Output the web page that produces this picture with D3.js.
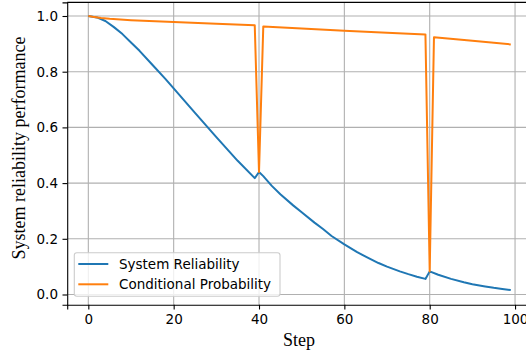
<!DOCTYPE html>
<html>
<head>
<meta charset="utf-8">
<script src="https://cdn.jsdelivr.net/npm/d3@7"></script>
<style>
  body { margin: 0; background: #fff; }
  svg { display: block; }
  .tick text { font-family: "DejaVu Sans", sans-serif; font-size: 13.5px; fill: #000; }
</style>
</head>
<body>
<script>
const width = 526;
const height = 354;

// values
const reliabilitySteps = [0, 2, 4, 6, 8, 10, 12, 15, 18, 20, 25, 30, 35, 39,
    40, 41, 43, 45, 48, 50, 53, 55, 57, 60, 63, 65, 68, 70, 73, 75, 77, 79,
    80, 82, 85, 88, 90, 93, 95, 97, 99];
const reliabilityValues = [1.0, 0.995, 0.982, 0.96, 0.935, 0.905, 0.875, 0.825, 0.775, 0.74, 0.652, 0.565, 0.48, 0.418,
    0.44, 0.425, 0.39, 0.36, 0.32, 0.295, 0.258, 0.235, 0.21, 0.18, 0.152, 0.136, 0.113, 0.1, 0.083, 0.073, 0.064, 0.056,
    0.083, 0.071, 0.056, 0.044, 0.037, 0.029, 0.024, 0.02, 0.016];

const conditionalSteps = [0, 1, 3, 5, 10, 20, 30, 39, 40, 41, 50, 60, 70, 79, 80, 81, 90, 99];
const conditionalValues = [1.0, 0.997, 0.993, 0.99, 0.985, 0.978, 0.972, 0.967, 0.44, 0.962, 0.955, 0.947, 0.94, 0.934, 0.083, 0.924, 0.911, 0.898];

const xTicks = [0, 20, 40, 60, 80, 100];
const yTicks = [0.0, 0.2, 0.4, 0.6, 0.8, 1.0];

const series = [
    { name: 'System Reliability', color: '#1f77b4', steps: reliabilitySteps, values: reliabilityValues },
    { name: 'Conditional Probability', color: '#ff7f0e', steps: conditionalSteps, values: conditionalValues }
];

const plot = { left: 67.2, right: 531.9, top: 2.35, bottom: 304.8 };

const svg = d3.select('body').append('svg')
    .attr('width', width)
    .attr('height', height);

const xScale = d3.scaleLinear()
    .domain([-4.95, 103.95])
    .range([plot.left, plot.right]);
const yScale = d3.scaleLinear()
    .domain([-0.037, 1.049])
    .range([plot.bottom, plot.top]);

// grid
svg.append('g')
    .selectAll('line').data(xTicks)
    .enter().append('line')
    .attr('x1', d => xScale(d)).attr('x2', d => xScale(d))
    .attr('y1', plot.top).attr('y2', plot.bottom)
    .attr('stroke', '#b0b0b0').attr('stroke-width', 1.1);
svg.append('g')
    .selectAll('line').data(yTicks)
    .enter().append('line')
    .attr('x1', plot.left).attr('x2', plot.right)
    .attr('y1', d => yScale(d)).attr('y2', d => yScale(d))
    .attr('stroke', '#b0b0b0').attr('stroke-width', 1.1);

// lines
const line = d3.line()
    .x(d => xScale(d[0]))
    .y(d => yScale(d[1]));

series.forEach(s => {
    svg.append('path')
        .datum(d3.zip(s.steps, s.values))
        .attr('d', line)
        .attr('fill', 'none')
        .attr('stroke', s.color)
        .attr('stroke-width', 2)
        .attr('stroke-linejoin', 'round');
});

// axes
const xAxis = d3.axisBottom(xScale).tickValues(xTicks).tickFormat(d3.format('d')).tickSize(4.7).tickPadding(4.5);
const yAxis = d3.axisLeft(yScale).tickValues(yTicks).tickFormat(d3.format('.1f')).tickSize(4.7).tickPadding(4.5);

svg.append('g')
    .attr('transform', `translate(0, ${plot.bottom})`)
    .call(xAxis)
    .call(g => g.select('.domain').attr('stroke-width', 1.1));
svg.append('g')
    .attr('transform', `translate(${plot.left}, 0)`)
    .call(yAxis)
    .call(g => g.select('.domain').attr('stroke-width', 1.1));
svg.selectAll('.tick line').attr('stroke-width', 1.1);

svg.append('line')
    .attr('x1', plot.left).attr('x2', plot.right)
    .attr('y1', plot.top).attr('y2', plot.top)
    .attr('stroke', '#000').attr('stroke-width', 1.1);

// axis labels
svg.append('text')
    .attr('x', 299)
    .attr('y', 346)
    .attr('text-anchor', 'middle')
    .attr('font-family', '"Liberation Serif", serif')
    .attr('font-size', 18)
    .text('Step');
svg.append('text')
    .attr('transform', `translate(25, 148) rotate(-90)`)
    .attr('text-anchor', 'middle')
    .attr('font-family', '"Liberation Serif", serif')
    .attr('font-size', 18)
    .text('System reliability performance');

// legend
const legend = svg.append('g').attr('transform', 'translate(74.3, 252.7)');
legend.append('rect')
    .attr('width', 205.7).attr('height', 43.5)
    .attr('rx', 2.5)
    .attr('fill', '#fff').attr('fill-opacity', 0.8)
    .attr('stroke', '#cccccc').attr('stroke-width', 1.1);
series.forEach((s, i) => {
    const y = 11.3 + i * 20.3;
    legend.append('line')
        .attr('x1', 4).attr('x2', 34)
        .attr('y1', y).attr('y2', y)
        .attr('stroke', s.color).attr('stroke-width', 2);
    legend.append('text')
        .attr('x', 44.7).attr('y', y + 4.8)
        .attr('font-family', '"DejaVu Sans", sans-serif')
        .attr('font-size', 13.5)
        .text(s.name);
});
</script>
</body>
</html>
